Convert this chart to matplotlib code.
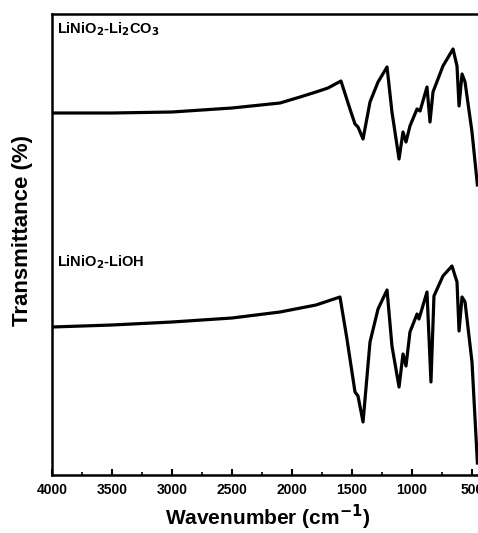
import matplotlib
matplotlib.use("Agg")
import matplotlib.pyplot as plt
import numpy as np
from matplotlib.ticker import MultipleLocator

plt.rcParams['font.family'] = ['Liberation Sans', 'DejaVu Sans']
plt.rcParams['mathtext.default'] = 'bf'

# Wavenumber (cm-1) and transmittance (arbitrary units, offset traces)
wn_li2co3 = [4000, 3500, 3000, 2500, 2100, 1933, 1800, 1700, 1592, 1517, 1475, 1450, 1408, 1350, 1283,
             1208, 1167, 1108, 1075, 1050, 1017, 958, 933, 875, 850, 825, 742, 658,
             625, 608, 583, 558, 500, 455]
t_li2co3 = [362, 362, 363, 367, 372, 378, 383, 387, 394, 366, 351, 348, 336, 373, 393,
            408, 363, 316, 343, 333, 349, 366, 364, 388, 353, 383, 409, 426,
            409, 369, 401, 393, 343, 290]

wn_lioh = [4000, 3500, 3000, 2500, 2100, 1800, 1600, 1542, 1475, 1450, 1408, 1350, 1283,
           1208, 1167, 1108, 1075, 1050, 1017, 958, 942, 875, 842, 817, 742, 667,
           625, 608, 583, 558, 500, 455]
t_lioh = [148, 150, 153, 157, 163, 170, 178, 136, 83, 79, 53, 133, 166,
          185, 129, 88, 121, 109, 143, 161, 156, 183, 93, 179, 199, 209,
          193, 144, 178, 173, 113, 12]

labels = ["LiNiO$_2$-Li$_2$CO$_3$", "LiNiO$_2$-LiOH"]

fig = plt.figure(figsize=(4.78, 5.33), dpi=100)
W, H = 478, 533
left_px, right_px, top_px, bot_px = 52, 484, 14, 475
ax = fig.add_axes([left_px / W, 1 - bot_px / H, (right_px - left_px) / W, (bot_px - top_px) / H])

ax.plot(wn_li2co3, t_li2co3, color='black', lw=2.3, solid_joinstyle='round')
ax.plot(wn_lioh, t_lioh, color='black', lw=2.3, solid_joinstyle='round')

ax.set_xlim(4000, 400)
ax.set_ylim(0, 461)
ax.set_yticks([])
ax.xaxis.set_major_locator(MultipleLocator(500))
ax.xaxis.set_minor_locator(MultipleLocator(250))
ax.tick_params(axis='x', which='major', direction='in', length=4, width=1.5, labelsize=10, pad=6)
ax.tick_params(axis='x', which='minor', direction='in', length=2.5, width=1.2)
for lab in ax.get_xticklabels():
    lab.set_fontweight('bold')
for s in ax.spines.values():
    s.set_linewidth(1.8)

ax.text(0.011, 0.967, labels[0], transform=ax.transAxes, fontsize=10.5, fontweight='bold',
        va='center', ha='left')
ax.text(0.011, 0.462, labels[1], transform=ax.transAxes, fontsize=10.5, fontweight='bold',
        va='center', ha='left')

ax.set_xlabel("Wavenumber (cm$^{-1}$)", fontsize=15, fontweight='bold', labelpad=4)
ax.set_ylabel("Transmittance (%)", fontsize=16, fontweight='bold')
ax.yaxis.set_label_coords(-19 / (right_px - left_px), (bot_px - 230) / (bot_px - top_px))

fig.savefig("out.png", dpi=100)
